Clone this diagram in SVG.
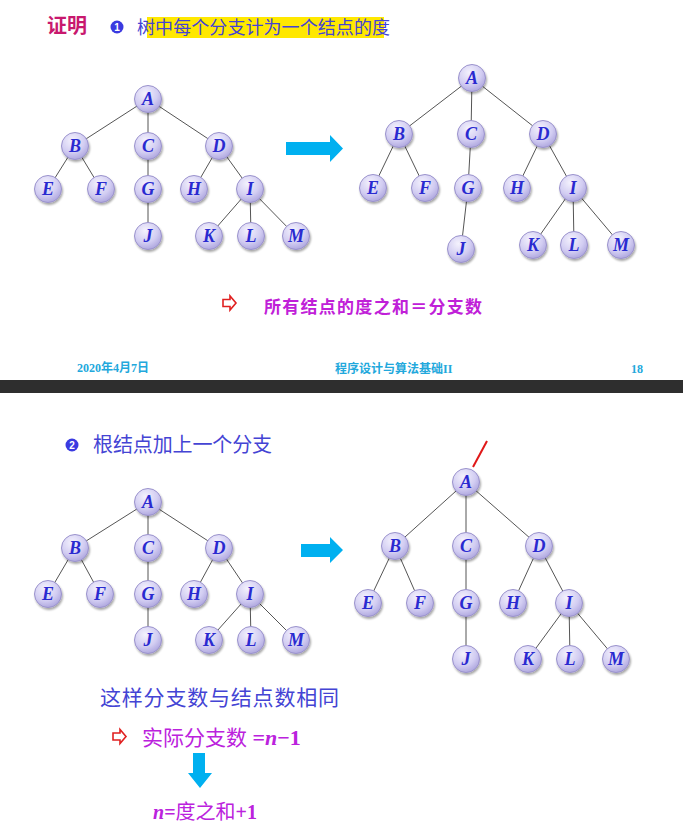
<svg xmlns="http://www.w3.org/2000/svg" width="683" height="832" viewBox="0 0 683 832">
<defs>
<radialGradient id="ng" cx="40%" cy="30%" r="75%">
<stop offset="0" stop-color="#f4f2fd"/>
<stop offset="0.6" stop-color="#d2cdf2"/>
<stop offset="1" stop-color="#aaa2dc"/>
</radialGradient>
<filter id="sh" x="-30%" y="-30%" width="170%" height="170%">
<feGaussianBlur in="SourceAlpha" stdDeviation="1.2"/>
<feOffset dx="1" dy="1.5" result="b"/>
<feComponentTransfer><feFuncA type="linear" slope="0.35"/></feComponentTransfer>
<feMerge><feMergeNode/><feMergeNode in="SourceGraphic"/></feMerge>
</filter>
<g id="nd"><circle r="13.5" fill="url(#ng)" stroke="#9a92cc" stroke-width="1" filter="url(#sh)"/></g>
</defs>
<style>
.e{stroke:#555;stroke-width:1;fill:none}
.t{font-family:"Liberation Serif",serif;font-weight:bold;font-style:italic;font-size:18px;fill:#2a2ad0;text-anchor:middle}
.cn{font-family:"Noto Sans CJK SC",sans-serif}
.ft{font-family:"Liberation Serif","Noto Sans CJK SC",serif;font-weight:bold;font-size:12px;fill:#22a8dc}
.arr{fill:#00b0f0}
</style>
<rect width="683" height="832" fill="#fff"/>
<rect x="0" y="380" width="683" height="13" fill="#2e2e2e"/>

<!-- header -->
<text x="47" y="33" class="cn" font-size="20" font-weight="bold" fill="#c8186e">证明</text>
<circle cx="117" cy="27" r="6.5" fill="#3a3ae0"/>
<text x="117" y="31" font-family="Liberation Sans,sans-serif" font-size="10" font-weight="bold" fill="#fff" text-anchor="middle">1</text>
<rect x="147" y="17" width="237" height="21" fill="#ffe800"/>
<text x="137" y="34" class="cn" font-size="18" fill="#4444d4" textLength="253">树中每个分支计为一个结点的度</text>

<!-- tree 1 connectors -->
<g id="edges1">
<path class="e" d="M148 99L75 146M148 99L148 146M148 99L219 146M75 146L48 189M75 146L101 189M148 146L148 189M219 146L194 189M219 146L250 189M148 189L148 236M250 189L209 236M250 189L251 236M250 189L296 236"/>
</g>
<g id="t1">
<g id="t1A"><use href="#nd" x="148" y="99"/><text class="t" x="148" y="105">A</text></g>
<g id="t1B"><use href="#nd" x="75" y="146"/><text class="t" x="75" y="152">B</text></g>
<g id="t1C"><use href="#nd" x="148" y="146"/><text class="t" x="148" y="152">C</text></g>
<g id="t1D"><use href="#nd" x="219" y="146"/><text class="t" x="219" y="152">D</text></g>
<g id="t1E"><use href="#nd" x="48" y="189"/><text class="t" x="48" y="195">E</text></g>
<g id="t1F"><use href="#nd" x="101" y="189"/><text class="t" x="101" y="195">F</text></g>
<g id="t1G"><use href="#nd" x="148" y="189"/><text class="t" x="148" y="195">G</text></g>
<g id="t1H"><use href="#nd" x="194" y="189"/><text class="t" x="194" y="195">H</text></g>
<g id="t1I"><use href="#nd" x="250" y="189"/><text class="t" x="250" y="195">I</text></g>
<g id="t1J"><use href="#nd" x="148" y="236"/><text class="t" x="148" y="242">J</text></g>
<g id="t1K"><use href="#nd" x="209" y="236"/><text class="t" x="209" y="242">K</text></g>
<g id="t1L"><use href="#nd" x="251" y="236"/><text class="t" x="251" y="242">L</text></g>
<g id="t1M"><use href="#nd" x="296" y="236"/><text class="t" x="296" y="242">M</text></g>
</g>

<path class="arr" d="M286 142H330V135L343 148.5L330 162V155H286Z"/>

<!-- tree 2 -->
<g id="edges2">
<path class="e" d="M472 78L399 134M472 78L471 134M472 78L543 134M399 134L373 188M399 134L425 188M471 134L468 188M543 134L517 188M543 134L573 188M468 188L461 249M573 188L533 245M573 188L574 245M573 188L621 245"/>
</g>
<g id="t2">
<g id="t2A"><use href="#nd" x="472" y="78"/><text class="t" x="472" y="84">A</text></g>
<g id="t2B"><use href="#nd" x="399" y="134"/><text class="t" x="399" y="140">B</text></g>
<g id="t2C"><use href="#nd" x="471" y="134"/><text class="t" x="471" y="140">C</text></g>
<g id="t2D"><use href="#nd" x="543" y="134"/><text class="t" x="543" y="140">D</text></g>
<g id="t2E"><use href="#nd" x="373" y="188"/><text class="t" x="373" y="194">E</text></g>
<g id="t2F"><use href="#nd" x="425" y="188"/><text class="t" x="425" y="194">F</text></g>
<g id="t2G"><use href="#nd" x="468" y="188"/><text class="t" x="468" y="194">G</text></g>
<g id="t2H"><use href="#nd" x="517" y="188"/><text class="t" x="517" y="194">H</text></g>
<g id="t2I"><use href="#nd" x="573" y="188"/><text class="t" x="573" y="194">I</text></g>
<g id="t2J"><use href="#nd" x="461" y="249"/><text class="t" x="461" y="255">J</text></g>
<g id="t2K"><use href="#nd" x="533" y="245"/><text class="t" x="533" y="251">K</text></g>
<g id="t2L"><use href="#nd" x="574" y="245"/><text class="t" x="574" y="251">L</text></g>
<g id="t2M"><use href="#nd" x="621" y="245"/><text class="t" x="621" y="251">M</text></g>
</g>

<!-- conclusion 1 -->
<path d="M223 299.5H230V296L236 303L230 310V306.5H223Z" fill="none" stroke="#e02020" stroke-width="1.6"/>
<text x="264" y="313" class="cn" font-size="17" font-weight="bold" fill="#c020d8" textLength="218">所有结点的度之和＝分支数</text>

<!-- footer -->
<text x="77" y="372" class="ft">2020年4月7日</text>
<text x="335" y="373" class="ft">程序设计与算法基础II</text>
<text x="631" y="373" class="ft">18</text>

<!-- part 2 -->
<circle cx="72" cy="445" r="6.5" fill="#3a3ae0"/>
<text x="72" y="449" font-family="Liberation Sans,sans-serif" font-size="10" font-weight="bold" fill="#fff" text-anchor="middle">2</text>
<text x="93" y="452" class="cn" font-size="20" fill="#4444d4" textLength="179">根结点加上一个分支</text>

<g id="edges3">
<path class="e" d="M148 502L75 548M148 502L148 548M148 502L219 548M75 548L48 594M75 548L100 594M148 548L148 594M219 548L194 594M219 548L250 594M148 594L148 640M250 594L209 640M250 594L251 640M250 594L296 640"/>
</g>
<g id="t3">
<g id="t3A"><use href="#nd" x="148" y="502"/><text class="t" x="148" y="508">A</text></g>
<g id="t3B"><use href="#nd" x="75" y="548"/><text class="t" x="75" y="554">B</text></g>
<g id="t3C"><use href="#nd" x="148" y="548"/><text class="t" x="148" y="554">C</text></g>
<g id="t3D"><use href="#nd" x="219" y="548"/><text class="t" x="219" y="554">D</text></g>
<g id="t3E"><use href="#nd" x="48" y="594"/><text class="t" x="48" y="600">E</text></g>
<g id="t3F"><use href="#nd" x="100" y="594"/><text class="t" x="100" y="600">F</text></g>
<g id="t3G"><use href="#nd" x="148" y="594"/><text class="t" x="148" y="600">G</text></g>
<g id="t3H"><use href="#nd" x="194" y="594"/><text class="t" x="194" y="600">H</text></g>
<g id="t3I"><use href="#nd" x="250" y="594"/><text class="t" x="250" y="600">I</text></g>
<g id="t3J"><use href="#nd" x="148" y="640"/><text class="t" x="148" y="646">J</text></g>
<g id="t3K"><use href="#nd" x="209" y="640"/><text class="t" x="209" y="646">K</text></g>
<g id="t3L"><use href="#nd" x="251" y="640"/><text class="t" x="251" y="646">L</text></g>
<g id="t3M"><use href="#nd" x="296" y="640"/><text class="t" x="296" y="646">M</text></g>
</g>

<path class="arr" d="M301 544H330V537L343 550L330 563V557H301Z"/>

<g id="edges4">
<path d="M473 467L487 441" stroke="#e01818" stroke-width="2" fill="none"/>
<path class="e" d="M466 482L395 546M466 482L466 546M466 482L539 546M395 546L368 603M395 546L420 603M466 546L466 603M539 546L513 603M539 546L569 603M466 603L466 659M569 603L528 659M569 603L570 659M569 603L616 659"/>
</g>
<g id="t4">
<g id="t4A"><use href="#nd" x="466" y="482"/><text class="t" x="466" y="488">A</text></g>
<g id="t4B"><use href="#nd" x="395" y="546"/><text class="t" x="395" y="552">B</text></g>
<g id="t4C"><use href="#nd" x="466" y="546"/><text class="t" x="466" y="552">C</text></g>
<g id="t4D"><use href="#nd" x="539" y="546"/><text class="t" x="539" y="552">D</text></g>
<g id="t4E"><use href="#nd" x="368" y="603"/><text class="t" x="368" y="609">E</text></g>
<g id="t4F"><use href="#nd" x="420" y="603"/><text class="t" x="420" y="609">F</text></g>
<g id="t4G"><use href="#nd" x="466" y="603"/><text class="t" x="466" y="609">G</text></g>
<g id="t4H"><use href="#nd" x="513" y="603"/><text class="t" x="513" y="609">H</text></g>
<g id="t4I"><use href="#nd" x="569" y="603"/><text class="t" x="569" y="609">I</text></g>
<g id="t4J"><use href="#nd" x="466" y="659"/><text class="t" x="466" y="665">J</text></g>
<g id="t4K"><use href="#nd" x="528" y="659"/><text class="t" x="528" y="665">K</text></g>
<g id="t4L"><use href="#nd" x="570" y="659"/><text class="t" x="570" y="665">L</text></g>
<g id="t4M"><use href="#nd" x="616" y="659"/><text class="t" x="616" y="665">M</text></g>
</g>

<text x="100" y="705" class="cn" font-size="21" fill="#4444d4" textLength="239">这样分支数与结点数相同</text>
<path d="M113 733H120V729.5L126 736.5L120 743.5V740H113Z" fill="none" stroke="#e02020" stroke-width="1.6"/>
<text x="142" y="745" font-size="21" fill="#bb22dd"><tspan class="cn">实际分支数</tspan><tspan font-family="Liberation Serif,serif" font-weight="bold" font-size="22"> =<tspan font-style="italic">n</tspan>−1</tspan></text>
<path class="arr" d="M193 753H205V773H212L200 788L188 773H193Z"/>
<text x="153" y="819" font-size="20" fill="#bb22dd" font-weight="bold"><tspan font-family="Liberation Serif,serif" font-style="italic">n</tspan><tspan font-family="Liberation Serif,serif">=</tspan><tspan class="cn" font-weight="normal">度之和</tspan><tspan font-family="Liberation Serif,serif">+1</tspan></text>
</svg>
